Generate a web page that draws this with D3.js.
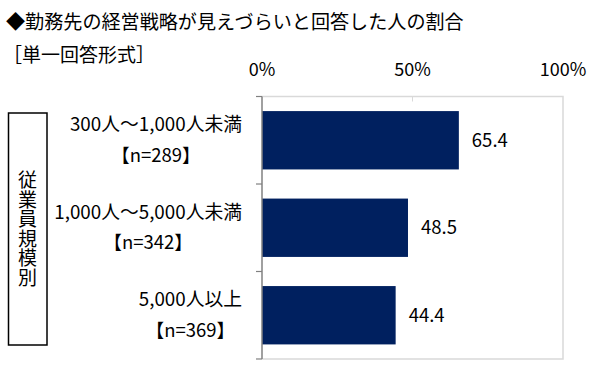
<!DOCTYPE html>
<html>
<head>
<meta charset="utf-8">
<script src="https://cdn.jsdelivr.net/npm/d3@7"></script>
<style>
  body { margin: 0; background: #fff; }
  text { font-family: "Noto Sans CJK JP", sans-serif; fill: #000; }
</style>
</head>
<body>
<div id="chart"></div>
<script>
const categories = ["300人～1,000人未満", "1,000人～5,000人未満", "5,000人以上"];
const counts = ["【n=289】", "【n=342】", "【n=369】"];
const values = [65.4, 48.5, 44.4];
const tickValues = [0, 50, 100];
const title = "◆勤務先の経営戦略が見えづらいと回答した人の割合";
const subtitle = "［単一回答形式］";
const groupLabel = "従業員規模別";

const w = 600, h = 365;
const plotLeft = 262, plotRight = 563, plotTop = 96.5, plotBottom = 359;

const svg = d3.select("#chart").append("svg")
    .attr("width", w)
    .attr("height", h);

const xScale = d3.scaleLinear().domain([0, 100]).range([plotLeft, plotRight]);
const yScale = d3.scaleBand()
    .domain(categories)
    .range([plotTop, plotBottom])
    .paddingInner(0.333)
    .paddingOuter(0.1667);

// title
svg.append("text").attr("x", 6).attr("y", 29)
    .style("font-size", "19.1px").text(title);
svg.append("text").attr("x", 3).attr("y", 62)
    .style("font-size", "19px").text(subtitle);

// top percent labels
svg.selectAll(".pct")
    .data(tickValues)
    .enter().append("text")
    .attr("x", d => xScale(d))
    .attr("y", 76)
    .attr("text-anchor", "middle")
    .style("font-size", "18px")
    .text(d => d + "%");

// plot frame (top, right, bottom)
svg.append("path")
    .attr("d", `M${plotLeft},${plotTop}H${plotRight}V${plotBottom}H${plotLeft}`)
    .attr("fill", "none")
    .attr("stroke", "#d9d9d9")
    .attr("stroke-width", 1.5);

// small inner ticks on top edge
svg.selectAll(".gtick")
    .data(tickValues.slice(1, -1))
    .enter().append("line")
    .attr("x1", d => xScale(d)).attr("x2", d => xScale(d))
    .attr("y1", plotTop).attr("y2", plotTop + 5)
    .attr("stroke", "#d9d9d9");

// bars
svg.selectAll(".bar")
    .data(values)
    .enter().append("rect")
    .attr("x", xScale(0))
    .attr("y", (d, i) => yScale(categories[i]))
    .attr("width", d => xScale(d) - xScale(0))
    .attr("height", yScale.bandwidth())
    .attr("fill", "#00205f");

// value labels
svg.selectAll(".val")
    .data(values)
    .enter().append("text")
    .attr("x", d => xScale(d) + 13)
    .attr("y", (d, i) => yScale(categories[i]) + yScale.bandwidth() / 2)
    .attr("dy", "0.36em")
    .style("font-size", "18.5px")
    .text(d => d.toFixed(1));

// category axis line + separator ticks
const step = yScale.step();
const bounds = [plotTop].concat(categories.map(c => yScale(c) + yScale.bandwidth() + (step - yScale.bandwidth()) / 2));
svg.append("line")
    .attr("x1", plotLeft).attr("x2", plotLeft)
    .attr("y1", plotTop).attr("y2", plotBottom)
    .attr("stroke", "#808080").attr("stroke-width", 1.5);
svg.selectAll(".ytick")
    .data(bounds)
    .enter().append("line")
    .attr("x1", plotLeft - 6).attr("x2", plotLeft)
    .attr("y1", d => d).attr("y2", d => d)
    .attr("stroke", "#808080").attr("stroke-width", 1.2);

// category labels (two lines)
categories.forEach((c, i) => {
    const cy = yScale(c) + yScale.bandwidth() / 2;
    const t1 = svg.append("text")
        .attr("x", 242).attr("y", cy - 16)
        .attr("dy", "0.36em")
        .attr("text-anchor", "end")
        .style("font-size", "18.8px")
        .text(c);
    const len = t1.node().getComputedTextLength();
    svg.append("text")
        .attr("x", 242 - len / 2).attr("y", cy + 15)
        .attr("dy", "0.36em")
        .attr("text-anchor", "middle")
        .style("font-size", "18.5px")
        .text(counts[i]);
});

// vertical group box
svg.append("rect")
    .attr("x", 8.5).attr("y", 113)
    .attr("width", 38.5).attr("height", 232)
    .attr("fill", "none")
    .attr("stroke", "#000")
    .attr("stroke-width", 1.5);
svg.append("text")
    .attr("x", 27.5)
    .attr("y", 229)
    .attr("text-anchor", "middle")
    .style("writing-mode", "vertical-rl")
    .style("text-orientation", "upright")
    .style("letter-spacing", "0.5px")
    .style("font-size", "19px")
    .text(groupLabel);
</script>
</body>
</html>
